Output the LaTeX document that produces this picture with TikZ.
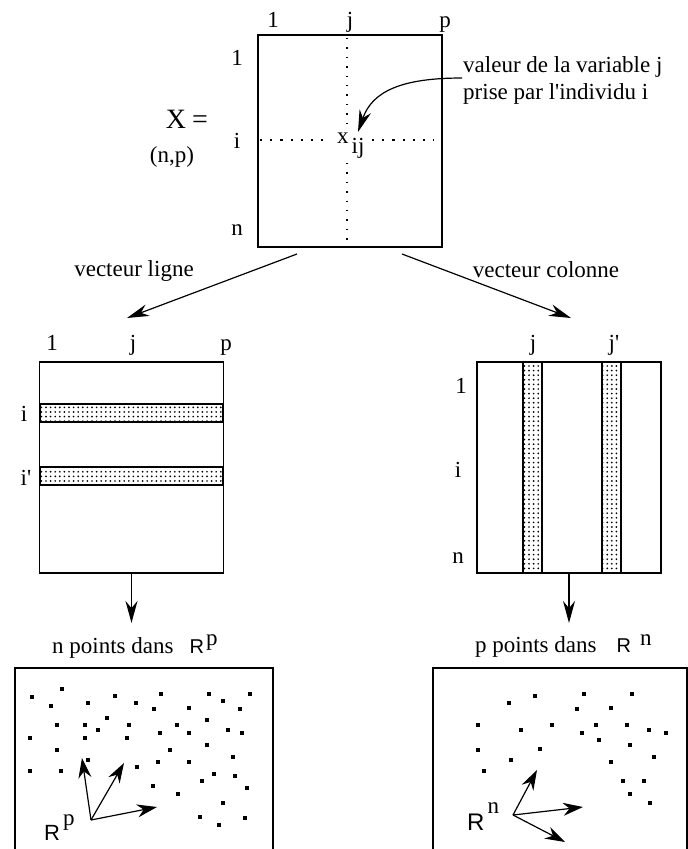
\documentclass[tikz,border=0pt]{standalone}
\usepackage{fontspec}
\setmainfont{Liberation Serif}[Ligatures=TeXOff]
\newfontfamily\rfont{Liberation Sans}
\usetikzlibrary{arrows.meta,patterns}

\pgfdeclarepatternformonly{stipple}{\pgfqpoint{-1pt}{-1pt}}{\pgfqpoint{1pt}{1pt}}{\pgfqpoint{4.6pt}{4.6pt}}{%
  \pgfpathcircle{\pgfqpoint{0pt}{0pt}}{0.95pt}\pgfusepath{fill}}

\begin{document}
\begin{tikzpicture}[x=1pt, y=-1pt,
    mat/.style={draw, line width=1.6pt, minimum width=184pt, minimum height=211pt, inner sep=0pt},
    lab/.style={font=\fontsize{23}{27}\selectfont, inner sep=0pt, anchor=base},
    arr/.style={-{Stealth[length=22pt, width=12pt]}, line width=1.2pt},
    vec/.style={-{Stealth[length=20pt, width=13pt]}, line width=1.2pt},
    dotline/.style={line width=1.4pt, dash pattern=on 1.4pt off 8pt},
    hdotline/.style={line width=2.2pt, dash pattern=on 2.2pt off 8pt},
    stripe/.style={draw, line width=1.4pt, pattern=stipple},
    frame/.style={line width=1.6pt}
]
\useasboundingbox (0,0) rectangle (688,849);

% matrice X
\node[mat, minimum height=212pt] (X) at (350,141) {};
\node[lab] (c1) at (273,27) {1};
\node[lab] (cj) at (350,27) {j};
\node[lab] (cp) at (445,27) {p};
\node[lab] (r1) at (237,65) {1};
\node[lab] (ri) at (237,148) {i};
\node[lab] (rn) at (237,235) {n};
\node[lab, font=\fontsize{28}{30}\selectfont] (eq) at (187,128) {X\hspace{6pt}=};
\node[lab] (np) at (172,162) {(n,p)};
\node[lab, anchor=base west] (xij) at (337,143) {x\hspace{3pt}\raisebox{-10pt}{ij}};
\draw[dotline] (347,38) -- (347,128);
\draw[dotline] (347,163) -- (347,246);
\draw[hdotline] (260,140) -- (328,140);
\draw[hdotline] (372,140) -- (434,140);

\node[lab, anchor=north west, align=left] (val) at (463,56) {valeur de la variable j\\prise par l'individu i};
\coordinate (va) at (462,78);
\coordinate (vb) at (358,132);
\draw[-{Stealth[length=22pt, width=12pt]}, line width=1.2pt] (va) .. controls (400,78) and (372,92) .. (vb);

% vecteurs
\coordinate (la) at (297,254);
\coordinate (lb) at (127,318);
\coordinate (ra) at (402,254);
\coordinate (rb) at (571,318);
\draw[arr] (la) -- (lb);
\draw[arr] (ra) -- (rb);
\node[lab] (vl) at (134,276) {vecteur ligne};
\node[lab] (vc) at (546,277) {vecteur colonne};

% lignes
\node[mat] (L) at (131.5,467.5) {};
\draw[stripe] (40,404) rectangle (223,422);
\draw[stripe] (40,467) rectangle (223,485);
\node[lab] (l1) at (52,350) {1};
\node[lab] (lj) at (133,350) {j};
\node[lab] (lp) at (226,350) {p};
\node[lab] (li) at (24,421) {i};
\node[lab] (li2) at (26,485) {i'};

% colonnes
\node[mat] (C) at (569,467.5) {};
\draw[stripe] (523,362) rectangle (542,573);
\draw[stripe] (602,362) rectangle (621,573);
\node[lab] (cj1) at (533,350) {j};
\node[lab] (cj2) at (614,350) {j'};
\node[lab] (k1) at (461,393) {1};
\node[lab] (ki) at (458,477) {i};
\node[lab] (kn) at (458,563) {n};

% nuages
\node[lab, anchor=base west] (nlab) at (52,653) {n points dans\hspace{16pt}{\rfont\fontsize{20}{24}\selectfont R}\hspace{2pt}\raisebox{8pt}{p}};
\node[lab, anchor=base west] (plab) at (475,652) {p points dans\hspace{20pt}{\rfont\fontsize{20}{24}\selectfont R}\hspace{9pt}\raisebox{7pt}{n}};
\draw[arr, shorten >=11pt] (L.south) -- (L.south |- nlab.north);
\draw[arr, shorten >=11pt] (C.south) -- (C.south |- plab.north);

\draw[frame] (15,849) -- (15,668) -- (273,668) -- (273,849);
\draw[frame] (433,849) -- (433,668) -- (687,668) -- (687,849);

\foreach \x/\y in {32/697,62/689,51/706,88/703,115/696,136/703,161/694,154/709,189/708,209/694,
    223/701,250/694,240/709,107/718,57/725,85/725,98/730,129/725,177/725,207/720,228/730,242/733,
    30/738,85/738,127/738,160/733,189/733,57/750,170/750,207/745,233/757,88/760,30/771,61/771,
    137/767,158/762,189/762,214/774,202/781,235/776,153/786,178/794,247/788,223/803,200/817,
    219/825,245/818}
  \fill (\x-1.9,\y-1.9) rectangle (\x+1.9,\y+1.9);
\foreach \x/\y in {509/703,535/696,584/694,632/694,577/709,611/708,478/725,521/730,552/725,
    596/725,627/725,649/730,666/733,582/733,599/740,630/745,478/750,540/749,511/760,654/757,
    611/762,484/771,623/781,644/781,630/794,650/803}
  \fill (\x-1.9,\y-1.9) rectangle (\x+1.9,\y+1.9);

\coordinate (o1) at (91,820);
\coordinate (p1) at (82,758);
\coordinate (p2) at (124,763);
\coordinate (p3) at (157,807);
\draw[vec] (o1) -- (p1);
\draw[vec] (o1) -- (p2);
\draw[vec] (o1) -- (p3);
\node[lab, anchor=base west] (rp) at (44,840) {{\rfont\fontsize{22}{24}\selectfont R}\hspace{3pt}\raisebox{15pt}{p}};

\coordinate (o2) at (513,815);
\coordinate (q1) at (537,770);
\coordinate (q2) at (583,807);
\coordinate (q3) at (565,842);
\draw[vec] (o2) -- (q1);
\draw[vec] (o2) -- (q2);
\draw[vec] (o2) -- (q3);
\node[lab, anchor=base west] (rn) at (467,830) {{\rfont\fontsize{24}{26}\selectfont R}\hspace{3pt}\raisebox{17pt}{n}};
\end{tikzpicture}
\end{document}
